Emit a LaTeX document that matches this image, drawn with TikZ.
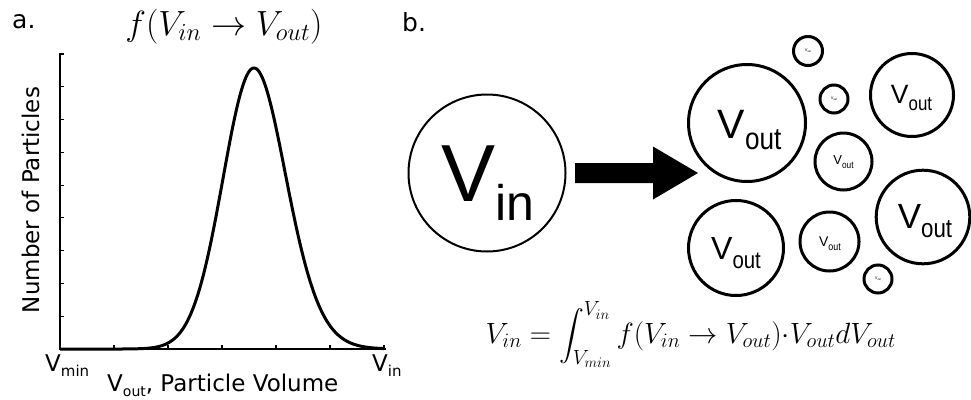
\RequirePackage{fix-cm}
\documentclass[tikz,border=0pt]{standalone}
\usepackage{exscale}
\usepackage{fontspec}
\usepackage{graphicx}
\newfontfamily\arialf{Liberation Sans}
\newfontfamily\dejavu{DejaVu Sans}
\usetikzlibrary{calc}
\newcommand\fsz[1]{\fontsize{#1}{#1}\selectfont}
% V with lowered "out" label in Arial-like font
\newcommand\Vlab[1]{\arialf\fsz{#1}V\raisebox{-0.27em}{\scalebox{0.85}[1]{\fsz{\fpeval{0.75*#1}pt}out}}}
\begin{document}
\begin{tikzpicture}[x=1pt,y=-1pt,
  ball/.style={circle, draw, line width=3pt, minimum size=#1, inner sep=0pt},
  lbl/.style={inner sep=0pt},
  axisline/.style={line width=1.5pt, line cap=rect},
  tickline/.style={line width=1.2pt},
  curve/.style={line width=3pt, line join=round},
  lab/.style={inner sep=0pt, font=\dejavu\fsz{23}}
]
\useasboundingbox (0,0) rectangle (971,399);

% ---------- panel a ----------
\node[lab, anchor=base west, font=\dejavu\fsz{25}] (la) at (12,28) {a.};
\node[lab, anchor=base west, font=\dejavu\fsz{25}] (lb) at (402,31) {b.};
\node[inner sep=0pt, font=\fsz{35}] (title) at (224,26.7) {$f(V_{in}\rightarrow V_{out})$};

\coordinate (O) at (60,349);
\coordinate (Ytop) at (60,54);
\coordinate (Xend) at (385,349);
\draw[axisline] (Ytop) -- (O) -- (Xend);
\foreach \k in {1,...,9}
  \draw[tickline] ($(O)+(0,-32.78*\k)$) -- ++(4,0);
\foreach \k in {1,...,6}
  \draw[tickline] ($(O)+(54*\k,0)$) -- ++(0,-4);

\draw[curve] plot[domain=60:384, samples=240]
  (\x, {349 - 281*exp(-0.5*((\x-254)/((\x<254) ? 31 : (31+0.04*(\x-254))))^2)});

\node[lab, rotate=90] (ylab) at (30.5,200) {Number of Particles};
\node[lab, anchor=base west] (vmin) at (45,371.7) {V\raisebox{-5pt}{\fsz{15}min}};
\node[lab, anchor=base west] (vinax) at (372,371.7) {V\raisebox{-5pt}{\fsz{15}in}};
\node[lab, anchor=base west] (xlab) at (107,391.7) {V\raisebox{-5pt}{\fsz{14}out}, Particle Volume};

% ---------- panel b ----------
\node[ball=157, line width=2pt] (vin) at (487,173) {};
\node[lbl, font=\arialf] (vint) at ($(vin)+(0.5,10)$) {\fsz{81}V\raisebox{-19pt}{\fsz{50}in}};

\coordinate (as) at (575,173);
\coordinate (ae) at (698,173);
\fill (as) ++(0,-10) -- ++(78,0) -- ++(0,-16.5) -- (ae) -- ($(as)+(78,26.5)$) -- ++(0,-16.5) -- ($(as)+(0,10)$) -- cycle;

\node[ball=117] (o1) at (747,123) {};
\node[ball=83] (o2) at (912,95) {};
\node[ball=57] (o3) at (843.5,161.5) {};
\node[ball=95] (o4) at (736,248) {};
\node[ball=59] (o5) at (829.5,241.5) {};
\node[ball=93.6] (o6) at (923,217) {};
\node[ball=29] (t1) at (808,51) {};
\node[ball=28] (t2) at (834,99) {};
\node[ball=28] (t3) at (878,279) {};

\node[lbl] (o1t) at ($(o1)+(2.5,7.5)$) {\Vlab{41}};
\node[lbl] (o2t) at ($(o2)+(-0.5,3)$) {\Vlab{26.5}};
\node[lbl] (o3t) at ($(o3)+(0,0.5)$) {\Vlab{13}};
\node[lbl] (o4t) at ($(o4)+(0,5)$) {\Vlab{32}};
\node[lbl] (o5t) at ($(o5)+(0.5,2.5)$) {\Vlab{14}};
\node[lbl] (o6t) at ($(o6)+(2,4)$) {\Vlab{35}};
\node[lbl] (t1t) at (t1) {\Vlab{4}};
\node[lbl] (t2t) at (t2) {\Vlab{4}};
\node[lbl] (t3t) at (t3) {\Vlab{4}};

\node[inner sep=0pt, anchor=base, font=\fsz{29.3}] (formula) at (690.8,343)
  {$\displaystyle V_{in} = \int_{V_{min}}^{V_{in}} f(V_{in}\rightarrow V_{out}){\cdot}V_{out}dV_{out}$};
\end{tikzpicture}
\end{document}
